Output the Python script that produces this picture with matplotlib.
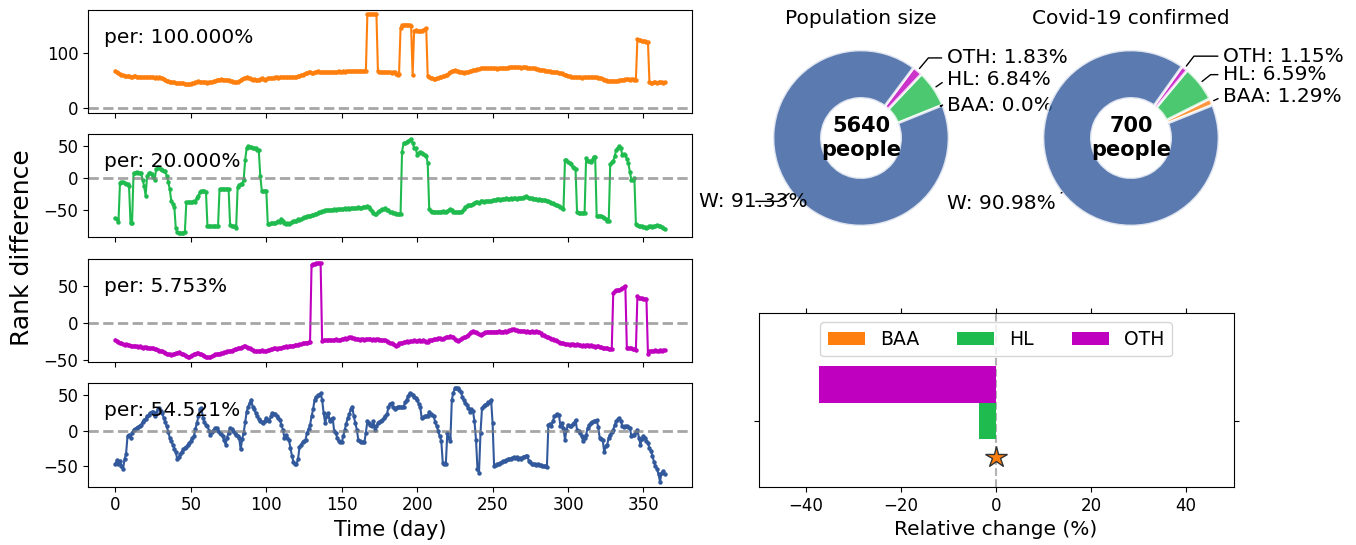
import numpy as np
import matplotlib.pyplot as plt

# rank difference per day
baa_rank = [
    68, 65, 63, 62, 61, 60, 59, 58, 58, 58,
    57, 57, 58, 58, 57, 57, 57, 57, 56, 56,
    57, 57, 56, 56, 57, 56, 55, 56, 55, 56,
    55, 54, 53, 51, 50, 49, 48, 48, 47, 47,
    46, 46, 46, 45, 45, 45, 44, 44, 43, 44,
    44, 45, 46, 47, 48, 49, 48, 47, 47, 48,
    47, 46, 47, 47, 48, 49, 50, 51, 52, 52,
    53, 52, 52, 51, 52, 51, 50, 49, 48, 48,
    47, 48, 49, 51, 53, 54, 55, 56, 55, 54,
    53, 52, 53, 52, 51, 52, 53, 54, 53, 52,
    53, 54, 55, 55, 54, 55, 56, 56, 55, 56,
    56, 57, 56, 56, 56, 56, 57, 56, 56, 57,
    57, 58, 59, 60, 61, 62, 63, 64, 65, 65,
    64, 64, 65, 66, 67, 66, 65, 65, 65, 66,
    65, 65, 66, 65, 66, 65, 65, 66, 67, 66,
    66, 67, 66, 67, 68, 67, 67, 68, 67, 67,
    68, 67, 68, 67, 67, 68, 67, 170, 170, 170,
    170, 170, 170, 170, 67, 66, 65, 65, 66, 65,
    65, 66, 65, 64, 65, 66, 62, 61, 62, 145,
    150, 151, 151, 151, 151, 150, 148, 60, 140, 141,
    140, 139, 140, 140, 141, 143, 145, 58, 57, 55,
    54, 53, 53, 54, 55, 56, 57, 58, 59, 60,
    61, 63, 65, 67, 68, 69, 68, 67, 66, 65,
    65, 64, 65, 65, 66, 67, 68, 69, 70, 70,
    71, 71, 72, 72, 72, 72, 72, 72, 72, 72,
    72, 72, 72, 71, 72, 72, 72, 73, 73, 73,
    73, 74, 74, 74, 74, 74, 74, 74, 74, 73,
    74, 74, 74, 73, 73, 73, 72, 72, 72, 71,
    71, 70, 70, 69, 69, 68, 68, 67, 67, 66,
    66, 66, 65, 65, 64, 64, 63, 62, 61, 60,
    59, 58, 57, 56, 56, 56, 56, 56, 56, 55,
    56, 56, 56, 56, 56, 57, 56, 56, 56, 56,
    55, 55, 54, 53, 52, 51, 50, 50, 49, 50,
    50, 49, 49, 50, 51, 51, 52, 52, 53, 53,
    53, 52, 53, 53, 52, 51, 125, 124, 123, 122,
    122, 121, 120, 119, 47, 46, 46, 47, 47, 46,
    47, 48, 47, 46, 47,
]

hl_rank = [
    -62, -63, -68, -7, -6, -6, -7, -8, -9, -12,
    -70, -70, 8, 9, 10, 9, 9, 8, -2, -12,
    -27, 4, 8, 9, 7, 2, -2, 15, 18, 16,
    14, 13, 12, 11, 4, -5, -17, -35, -40, -44,
    -78, -84, -85, -85, -85, -85, -84, -37, -37, -37,
    -37, -37, -36, -37, -30, -27, -22, -20, -19, -20,
    -21, -75, -75, -75, -75, -75, -75, -75, -75, -17,
    -17, -16, -16, -17, -16, -16, -73, -74, -75, -75,
    -77, -14, -10, -9, -8, -2, 29, 48, 50, 49,
    49, 48, 47, 47, 45, 44, 4, -19, -20, -19,
    -19, -72, -71, -70, -70, -69, -70, -68, -67, -68,
    -64, -66, -69, -71, -70, -72, -70, -68, -67, -66,
    -66, -64, -65, -63, -62, -61, -60, -59, -59, -58,
    -57, -57, -56, -55, -54, -53, -52, -51, -51, -50,
    -50, -49, -50, -49, -49, -48, -49, -48, -48, -48,
    -48, -48, -47, -48, -47, -48, -47, -47, -46, -47,
    -46, -45, -46, -46, -45, -44, -44, -43, -45, -48,
    -51, -54, -56, -55, -53, -51, -49, -48, -48, -47,
    -49, -50, -52, -53, -54, -54, -55, -56, -55, -55,
    42, 55, 56, 57, 58, 60, 62, 55, 48, 47,
    37, 40, 41, 39, 38, 37, 35, 24, -48, -51,
    -52, -52, -52, -53, -52, -52, -52, -51, -52, -52,
    -51, -50, -48, -50, -52, -53, -53, -52, -53, -52,
    -51, -48, -45, -43, -42, -41, -42, -40, -38, -37,
    -37, -38, -36, -36, -37, -36, -35, -36, -35, -35,
    -34, -34, -33, -32, -32, -33, -32, -32, -32, -31,
    -32, -32, -31, -32, -31, -31, -32, -31, -30, -30,
    -30, -29, -28, -29, -30, -31, -31, -32, -32, -32,
    -33, -32, -33, -33, -34, -34, -35, -36, -37, -38,
    -39, -40, -41, -42, -43, -44, -46, -48, 29, 28,
    25, 24, 22, 18, 16, 14, -53, -54, -54, -54,
    -54, -54, 32, 27, 27, 26, 28, 34, 34, -58,
    -58, -59, -59, -60, -62, -63, -66, -67, 22, 25,
    27, 35, 45, 48, 50, 47, 37, 38, 37, 30,
    24, 10, -2, -2, 0, -71, -73, -74, -75, -75,
    -76, -76, -77, -76, -75, -75, -76, -74, -74, -73,
    -74, -75, -76, -78, -79,
]

oth_rank = [
    -23, -25, -26, -27, -28, -29, -30, -29, -30, -30,
    -31, -31, -32, -31, -32, -33, -32, -33, -34, -33,
    -33, -34, -34, -35, -34, -35, -36, -36, -37, -38,
    -38, -39, -40, -41, -42, -43, -43, -44, -43, -42,
    -41, -41, -40, -41, -42, -43, -44, -45, -47, -46,
    -45, -44, -43, -42, -41, -41, -42, -43, -44, -45,
    -46, -47, -47, -46, -45, -44, -43, -43, -42, -42,
    -41, -41, -40, -40, -39, -39, -38, -38, -37, -36,
    -36, -35, -35, -34, -33, -32, -32, -33, -34, -35,
    -36, -37, -38, -39, -39, -38, -38, -37, -38, -39,
    -38, -37, -37, -36, -36, -35, -35, -36, -35, -34,
    -34, -33, -33, -32, -33, -32, -32, -31, -31, -30,
    -30, -30, -29, -29, -28, -28, -27, -27, -26, -26,
    79, 80, 80, 81, 81, 81, 81, -25, -24, -24,
    -24, -23, -23, -24, -24, -23, -22, -23, -24, -23,
    -22, -22, -21, -22, -21, -20, -20, -21, -21, -22,
    -22, -22, -23, -22, -22, -23, -22, -22, -22, -22,
    -23, -22, -23, -22, -22, -23, -23, -24, -23, -24,
    -25, -26, -27, -28, -29, -30, -31, -30, -28, -27,
    -27, -26, -26, -25, -26, -25, -25, -25, -24, -25,
    -25, -24, -25, -25, -24, -25, -26, -26, -24, -23,
    -23, -22, -22, -22, -21, -21, -22, -22, -21, -20,
    -19, -19, -18, -19, -20, -22, -24, -25, -24, -22,
    -21, -20, -19, -18, -16, -14, -12, -11, -12, -13,
    -14, -15, -16, -15, -14, -13, -13, -12, -12, -12,
    -12, -12, -12, -12, -11, -12, -12, -12, -11, -12,
    -11, -10, -10, -9, -9, -10, -10, -11, -11, -11,
    -11, -11, -12, -11, -12, -12, -11, -12, -12, -11,
    -12, -13, -14, -16, -17, -18, -19, -20, -21, -22,
    -22, -23, -24, -25, -26, -27, -28, -28, -29, -29,
    -29, -30, -29, -29, -30, -30, -29, -30, -30, -31,
    -30, -31, -30, -30, -31, -30, -31, -32, -33, -32,
    -32, -33, -33, -34, -34, -35, -35, -36, -36, -36,
    41, 43, 44, 45, 45, 46, 47, 48, 50, -34,
    -34, -35, -35, -36, -36, -37, 36, 34, 33, 33,
    32, 32, 32, -43, -39, -38, -39, -38, -37, -38,
    -38, -37, -38, -37, -37,
]

w_rank = [
    -48, -42, -48, -43, -50, -55, -41, -34, -8, -6,
    -10, -3, 1, 2, 4, 5, 7, 8, 12, 15,
    17, 20, 22, 25, 26, 27, 20, 25, 30, 32,
    28, 25, 18, 12, 6, -2, -10, -15, -20, -26,
    -31, -41, -38, -34, -30, -27, -25, -24, -20, -18,
    -15, -11, -8, 2, 11, 20, 30, 32, 18, 12,
    8, 6, 0, -6, -2, 1, 3, 4, 0, -3,
    -5, -8, -14, -20, -10, -3, 4, 2, -1, -3,
    -6, -8, -10, -27, -12, -3, 12, 27, 34, 39,
    44, 34, 30, 25, 20, 16, 13, 12, 11, 14,
    18, 15, 13, 20, 25, 24, 23, 21, 18, 15,
    8, 1, -10, -6, -10, -13, -25, -36, -45, -48,
    -48, -41, -24, -20, -17, -15, -13, -3, 2, 8,
    20, 30, 44, 48, 50, 51, 53, 44, 25, 11,
    20, 25, 13, 16, 18, -1, -3, -10, -15, -16,
    -17, -8, 1, 10, 18, 23, 30, 34, 20, 11,
    1, -13, -15, -16, -17, -17, -3, 13, 11, 8,
    6, 13, 1, 6, 11, 12, 14, 15, 18, 21,
    24, 33, 38, 39, 33, 30, 32, 34, 34, 34,
    33, 34, 40, 44, 49, 53, 52, 51, 48, 46,
    44, 38, 34, 18, 19, 20, 21, 20, 27, 24,
    22, 20, 12, 6, -1, -8, -15, -46, -48, -48,
    -3, -10, -15, 44, 54, 60, 61, 60, 58, 55,
    48, 43, 39, 37, 32, 27, 30, 28, 13, -13,
    -55, -60, -3, 32, 35, 37, 38, 40, 41, 44,
    11, -50, -49, -48, -47, -46, -45, -44, -43, -42,
    -41, -41, -40, -39, -38, -39, -38, -40, -39, -40,
    -38, -37, -36, -36, -43, -45, -47, -48, -48, -49,
    -48, -49, -49, -50, -51, -51, -52, 8, 10, 6,
    14, 20, 22, 23, 22, 6, 11, 3, -13, 1,
    8, 7, 6, 9, 11, 15, 1, -1, -3, -8,
    -15, -10, -6, 3, 8, 11, 12, 13, 14, 15,
    5, -10, -12, -13, -31, -22, -20, -10, -6, -2,
    1, 8, 13, 16, 18, 14, 6, 5, 6, 6,
    5, 4, -8, -7, -6, -2, 1, -10, -20, -12,
    -8, -10, -15, -18, -25, -29, -36, -45, -50, -55,
    -62, -73, -60, -58, -62,
]

per_values = [100.0, 20.0, 5.753, 54.521]

# pie data, in drawing order (counter-clockwise from startangle)
groups = ["BAA", "HL", "OTH", "W"]
pop_pct = [0.0, 6.84, 1.83, 91.33]
covid_pct = [1.29, 6.59, 1.15, 90.98]
pop_total = 5640
covid_total = 700

colors = {"W": "#32599c", "BAA": "#ff7f0e", "HL": "#1fbb4e", "OTH": "#bf00bf"}

W, H = 1356, 545
fig = plt.figure(figsize=(W / 100, H / 100), dpi=100)


def px_axes(left, top, width, height):
    return fig.add_axes([left / W, 1 - (top + height) / H, width / W, height / H])


# --- left: rank difference time series ---
series = [(baa_rank, "BAA"), (hl_rank, "HL"), (oth_rank, "OTH"), (w_rank, "W")]
tops = [9.5, 134, 258.5, 383]
yticks = [[0, 100], [-50, 0, 50], [-50, 0, 50], [-50, 0, 50]]
for i, ((vals, g), per) in enumerate(zip(series, per_values)):
    ax = px_axes(88, tops[i], 604, 103.5)
    ax.plot(np.arange(len(vals)), vals, color=colors[g], lw=1.5, marker="o", ms=2.2)
    ax.axhline(0, color="gray", ls="--", lw=2, alpha=0.7)
    ax.text(0.027, 0.73, f"per: {per:.3f}%", transform=ax.transAxes,
            fontsize=14.5, va="center")
    ax.set_yticks(yticks[i])
    ax.set_xticks(np.arange(0, 351, 50))
    ax.tick_params(labelsize=12)
    if i < 3:
        ax.tick_params(labelbottom=False)
    else:
        ax.set_xlabel("Time (day)", fontsize=15)

fig.text(22 / W, 1 - 248 / H, "Rank difference", rotation=90,
         fontsize=18, ha="center", va="center")


# --- right top: donuts ---
def donut(cx, pct, total, title, label_pos):
    ax = px_axes(cx - 110, 28, 220, 220)
    wedges, _ = ax.pie(pct, colors=[colors[g] for g in groups], startangle=22,
                       wedgeprops=dict(width=0.55, edgecolor="white",
                                       linewidth=2, alpha=0.8))
    ax.set_xlim(-1.25, 1.25)
    ax.set_ylim(-1.25, 1.25)
    for w, g, p, (tx, ty) in zip(wedges, groups, pct, label_pos):
        ang = (w.theta1 + w.theta2) / 2
        x, y = np.cos(np.deg2rad(ang)), np.sin(np.deg2rad(ang))
        ax.annotate(f"{g}: {p}%", xy=(x, y), xytext=(tx, ty),
                    ha="left" if tx > 0 else "right", va="center", fontsize=14.5,
                    arrowprops=dict(arrowstyle="-", color="black", lw=1,
                                    connectionstyle=f"angle,angleA=0,angleB={ang}"))
    ax.text(0, 0, f"{total}\npeople", ha="center", va="center",
            fontsize=15, fontweight="bold")
    ax.set_title(title, fontsize=14.5, pad=2)


donut(861, pop_pct, pop_total, "Population size",
      [(0.98, 0.364), (0.98, 0.67), (0.98, 0.91), (-0.61, -0.72)])
donut(1131, covid_pct, covid_total, "Covid-19 confirmed",
      [(1.05, 0.47), (1.05, 0.72), (1.05, 0.93), (-0.85, -0.74)])

# --- right bottom: relative change ---
axb = px_axes(758.5, 313, 475, 174)
bar_h = 0.25
for k, g in enumerate(["BAA", "HL", "OTH"]):
    j = groups.index(g)
    off = (k - 1) * bar_h
    if pop_pct[j] > 0:
        rel = (covid_pct[j] / pop_pct[j] - 1) * 100
        axb.barh(off, rel, height=bar_h, color=colors[g], label=g)
    else:
        axb.barh(off, 0, height=bar_h, color=colors[g], label=g)
        axb.plot(0, off, marker="*", ms=16, color=colors[g], mec="#333333",
                 mew=1, zorder=4)
axb.axvline(0, color="gray", ls="--", lw=1.5, alpha=0.6, zorder=0)
axb.legend(loc="upper center", ncol=3, fontsize=13.5)
axb.set_xlim(-50, 50)
axb.set_ylim(-0.453, 0.742)
axb.set_yticks([0])
axb.set_yticklabels([""])
axb.set_xticks([-40, -20, 0, 20, 40])
axb.tick_params(top=True, right=True, labelsize=12)
axb.set_xlabel("Relative change (%)", fontsize=14.5)

fig.savefig("out.png", dpi=100)
